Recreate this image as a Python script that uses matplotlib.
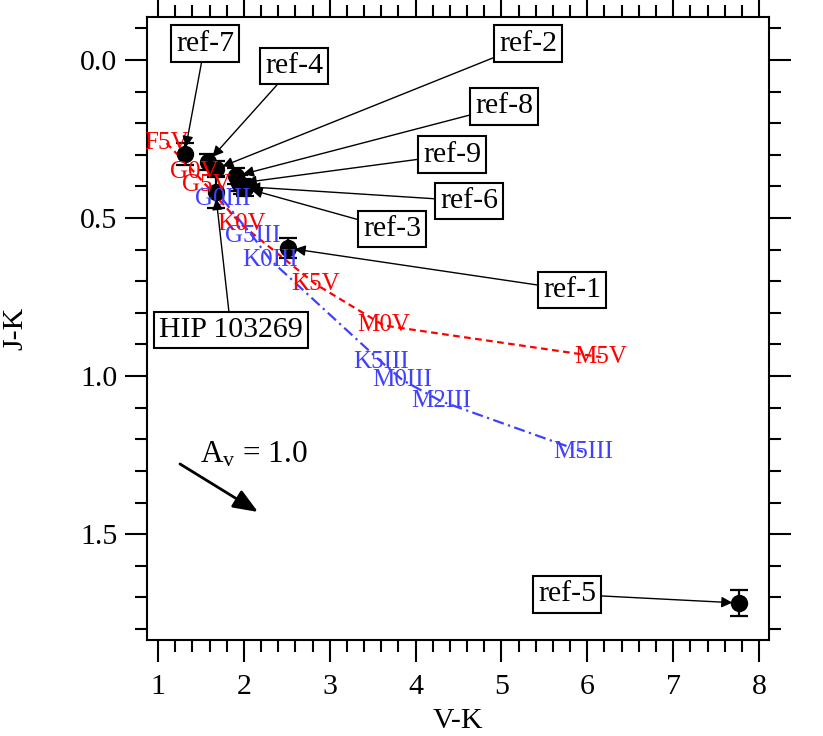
import matplotlib
matplotlib.use('Agg')
import matplotlib.pyplot as plt
from matplotlib.ticker import MultipleLocator, FormatStrFormatter

plt.rcParams['font.family'] = ['Liberation Serif', 'DejaVu Serif']
plt.rcParams['mathtext.fontset'] = 'custom'
plt.rcParams['mathtext.rm'] = 'Liberation Serif'
plt.rcParams['mathtext.it'] = 'Liberation Serif:italic'

# ---- data ----
dwarf_types = ['F5V', 'G0V', 'G5V', 'K0V', 'K5V', 'M0V', 'M5V']
dwarf_vk = [1.10, 1.42, 1.56, 1.97, 2.84, 3.63, 6.16]
dwarf_jk = [0.263, 0.354, 0.396, 0.52, 0.71, 0.84, 0.94]

giant_types = ['G0III', 'G5III', 'K0III', 'K5III', 'M0III', 'M2III', 'M5III']
giant_vk = [1.75, 2.10, 2.31, 3.60, 3.85, 4.30, 5.95]
giant_jk = [0.44, 0.557, 0.633, 0.955, 1.013, 1.08, 1.24]

star_names = ['ref-1', 'ref-2', 'ref-3', 'ref-4', 'ref-5', 'ref-6',
              'ref-7', 'ref-8', 'ref-9', 'HIP 103269']
star_vk = [2.51, 1.675, 2.01, 1.58, 7.77, 1.98, 1.31, 1.91, 1.94, 1.67]
star_jk = [0.595, 0.345, 0.405, 0.323, 1.718, 0.40, 0.297, 0.367, 0.39, 0.418]
star_err = [0.032, 0.025, 0.025, 0.025, 0.04, 0.025, 0.035, 0.025, 0.025, 0.05]

# label box positions (data coords)
label_x = [5.822, 5.309, 3.725, 2.584, 5.763, 4.622, 1.547, 5.03, 4.424, 1.85]
label_y = [0.728, -0.051, 0.535, 0.019, 1.690, 0.446, -0.051, 0.146, 0.300, 0.854]

av_start = (1.256, 1.278)
av_end = (2.165, 1.430)

# ---- figure ----
fig = plt.figure(figsize=(8.23, 7.36), dpi=100)
ax = fig.add_axes([147 / 823, 1 - 640 / 736, 622 / 823, 623 / 736])

red = '#ff0000'
blue = '#4040ff'
FS = 21.5
FS_SP = 18

ax.plot(dwarf_vk, dwarf_jk, color=red, ls=(0, (3, 2)), lw=1.6, zorder=1)
ax.plot(giant_vk, giant_jk, color=blue, ls=(0, (5, 2, 1, 2)), lw=1.6, zorder=1)

ax.errorbar(star_vk, star_jk, yerr=star_err, fmt='o', color='black',
            ms=11.5, capsize=6.5, capthick=1.6, elinewidth=1.6, zorder=2)

for t, x, y in zip(dwarf_types, dwarf_vk, dwarf_jk):
    ax.text(x, y, t, color=red, fontsize=FS_SP, ha='center', va='center', zorder=3)
for t, x, y in zip(giant_types, giant_vk, giant_jk):
    ax.text(x, y, t, color=blue, fontsize=FS_SP, ha='center', va='center', zorder=3)

for name, x, y, lx, ly in zip(star_names, star_vk, star_jk, label_x, label_y):
    ax.annotate(name, xy=(x, y), xytext=(lx, ly), fontsize=FS,
                ha='center', va='center', zorder=4,
                bbox=dict(boxstyle='square,pad=0.18', fc='white', ec='black', lw=1.5),
                arrowprops=dict(arrowstyle='-|>', color='black', lw=1.0,
                                mutation_scale=16, shrinkA=0, shrinkB=5))

ax.annotate('', xy=av_end, xytext=av_start,
            arrowprops=dict(arrowstyle='-|>,head_length=0.5,head_width=0.2',
                            color='black', lw=2.0,
                            mutation_scale=30, shrinkA=0, shrinkB=0))
ax.text(1.489, 1.275, r'$\mathrm{A_v}$ = 1.0', fontsize=FS + 1, ha='left', va='baseline')

ax.set_xlim(0.872, 8.116)
ax.set_ylim(1.835, -0.136)

ax.xaxis.set_major_locator(MultipleLocator(1))
ax.xaxis.set_minor_locator(MultipleLocator(0.2))
ax.yaxis.set_major_locator(MultipleLocator(0.5))
ax.yaxis.set_minor_locator(MultipleLocator(0.1))
ax.yaxis.set_major_formatter(FormatStrFormatter('%.1f'))

ax.tick_params(which='both', direction='out', top=True, right=True,
               labeltop=False, labelright=False, width=1.5, labelsize=FS)
ax.tick_params(which='major', length=15.5, pad=6)
ax.tick_params(which='minor', length=8.5)
ax.tick_params(axis='x', which='major', pad=9)
for s in ax.spines.values():
    s.set_linewidth(1.5)

ax.set_xlabel('V-K', fontsize=FS, labelpad=6)
ax.set_ylabel('J-K', fontsize=FS)
ax.yaxis.set_label_coords(-0.19, 0.5)

fig.savefig('out.png', dpi=100)
